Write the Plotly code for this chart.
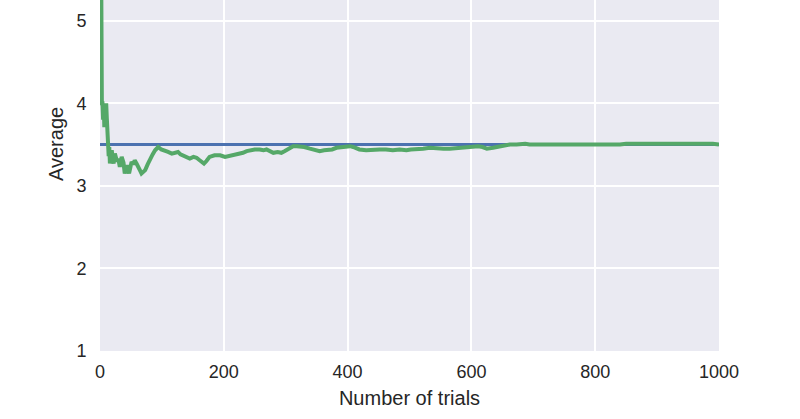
import plotly.graph_objects as go

trials = [1, 2, 3, 4, 5, 6, 7, 8, 9, 10, 11, 12, 13, 14, 15, 16, 18, 19, 21, 22, 24, 25, 27, 30, 32, 35, 38, 40, 42, 44, 47, 49, 51, 54, 56, 59, 62, 65, 67, 70, 73, 77, 81, 85, 89, 94, 99, 104, 110, 116, 121, 126, 130, 134, 140, 145, 151, 156, 161, 165, 168, 172, 177, 185, 194, 202, 208, 215, 223, 231, 237, 242, 250, 258, 264, 269, 275, 280, 287, 293, 298, 304, 312, 318, 323, 330, 339, 347, 355, 362, 368, 375, 382, 390, 398, 404, 409, 414, 419, 430, 441, 452, 462, 473, 484, 495, 502, 509, 516, 522, 533, 544, 555, 565, 576, 587, 594, 600, 611, 618, 625, 635, 646, 655, 662, 673, 680, 687, 694, 700, 714, 727, 740, 754, 768, 781, 795, 808, 820, 830, 840, 850, 865, 880, 890, 900, 910, 920, 930, 940, 950, 960, 970, 980, 990, 1000]
average = [6.0, 5.5, 4.0, 4.0, 3.8, 4.0, 3.71, 4.0, 3.78, 4.0, 3.82, 3.67, 3.5, 3.36, 3.47, 3.27, 3.4, 3.43, 3.3, 3.27, 3.39, 3.35, 3.31, 3.31, 3.23, 3.35, 3.28, 3.15, 3.22, 3.25, 3.15, 3.2, 3.29, 3.26, 3.31, 3.27, 3.21, 3.18, 3.15, 3.17, 3.19, 3.26, 3.33, 3.38, 3.43, 3.47, 3.44, 3.43, 3.41, 3.39, 3.4, 3.41, 3.38, 3.37, 3.35, 3.33, 3.35, 3.34, 3.31, 3.29, 3.27, 3.3, 3.35, 3.37, 3.37, 3.35, 3.36, 3.37, 3.38, 3.4, 3.42, 3.43, 3.44, 3.44, 3.43, 3.44, 3.42, 3.4, 3.41, 3.4, 3.42, 3.45, 3.48, 3.48, 3.48, 3.47, 3.45, 3.44, 3.42, 3.43, 3.43, 3.44, 3.46, 3.47, 3.48, 3.48, 3.47, 3.45, 3.44, 3.43, 3.44, 3.44, 3.44, 3.43, 3.44, 3.43, 3.44, 3.44, 3.45, 3.45, 3.46, 3.45, 3.45, 3.45, 3.46, 3.46, 3.47, 3.47, 3.48, 3.47, 3.45, 3.46, 3.48, 3.49, 3.5, 3.5, 3.51, 3.51, 3.5, 3.5, 3.5, 3.5, 3.5, 3.5, 3.5, 3.49, 3.49, 3.49, 3.49, 3.5, 3.5, 3.51, 3.51, 3.51, 3.51, 3.51, 3.52, 3.52, 3.52, 3.52, 3.52, 3.51, 3.51, 3.51, 3.51, 3.5]

expected_x = [0, 1000]
expected_y = [3.5, 3.5]

fig = go.Figure()
fig.add_trace(go.Scatter(x=expected_x, y=expected_y, mode="lines",
                         line=dict(color="#4C72B0", width=3), showlegend=False))
fig.add_trace(go.Scatter(x=trials, y=average, mode="lines",
                         line=dict(color="#55A868", width=4), showlegend=False))

font = "Liberation Sans, Arial, sans-serif"
fig.update_layout(
    width=800, height=419,
    margin=dict(l=100, r=81, t=0, b=68),
    paper_bgcolor="white", plot_bgcolor="#EAEAF2",
    font=dict(family=font, size=18, color="#262626"),
    xaxis=dict(range=[0, 1000], tickvals=[0, 200, 400, 600, 800, 1000],
               showgrid=True, gridcolor="white", gridwidth=1.5, zeroline=False,
               showline=False, ticks="outside", ticklen=4, tickcolor="rgba(0,0,0,0)",
               title=dict(text="Number of trials", font=dict(size=20), standoff=10)),
    yaxis=dict(range=[1, 5.25], tickvals=[1, 2, 3, 4, 5],
               showgrid=True, gridcolor="white", gridwidth=1.5, zeroline=False,
               showline=False, ticks="outside", ticklen=9, tickcolor="rgba(0,0,0,0)"),
    annotations=[dict(text="Average", textangle=-90, showarrow=False,
                      xref="paper", yref="paper", x=-44 / 619, y=(351 - 144) / 351,
                      xanchor="center", yanchor="middle", font=dict(size=20))],
)
fig.write_html("out.html")
